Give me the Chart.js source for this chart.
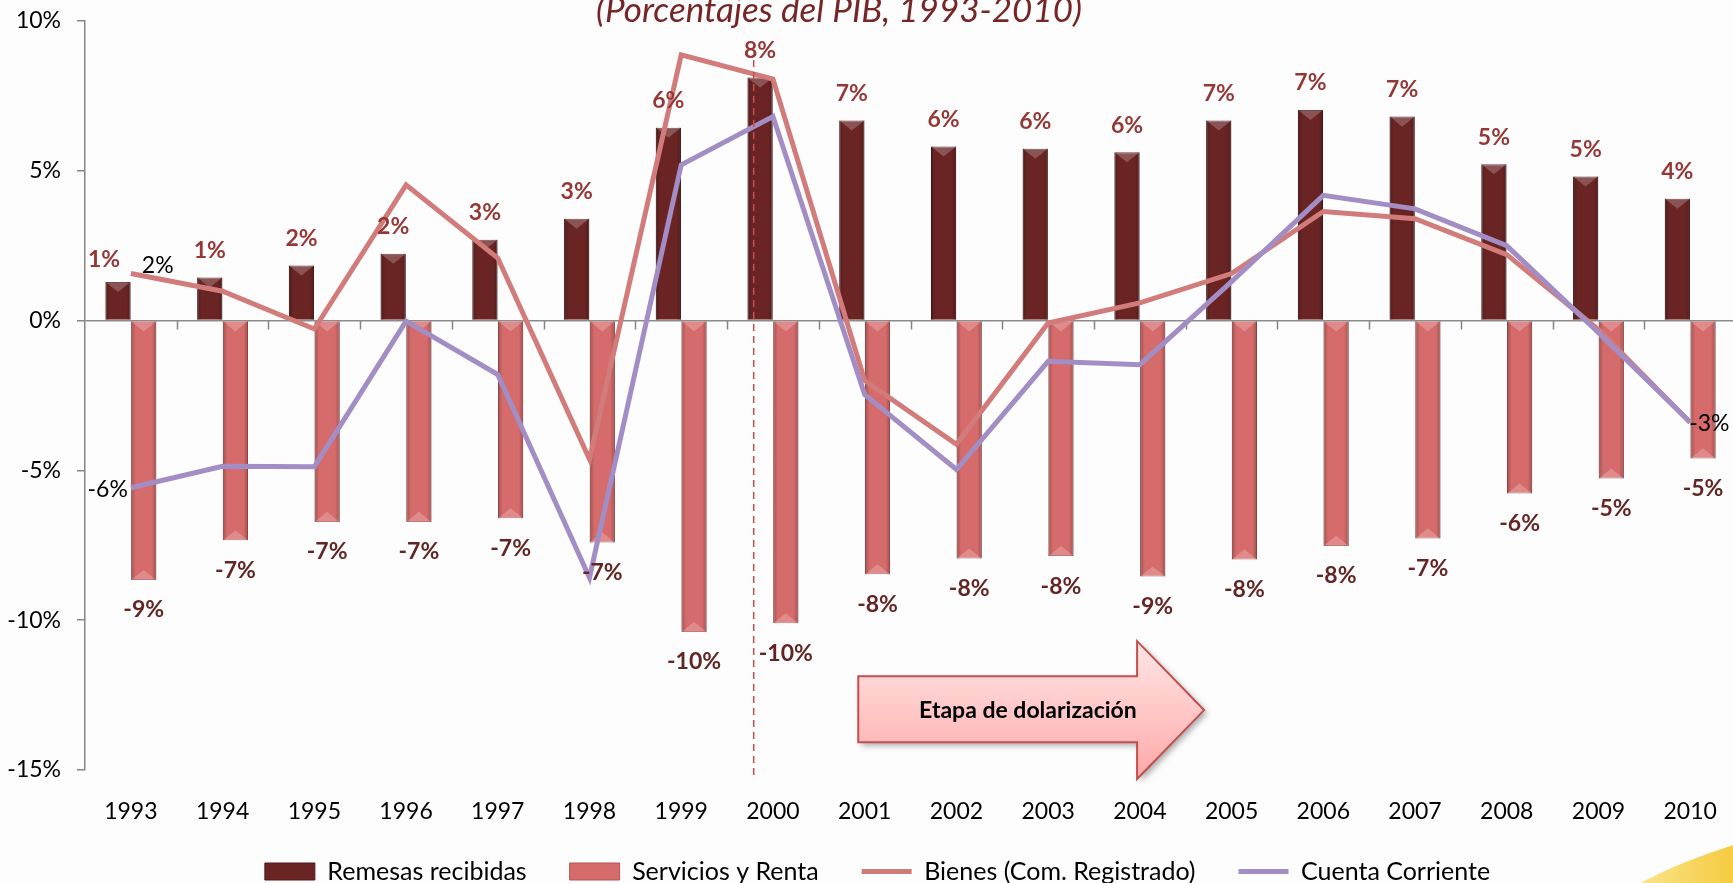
<!DOCTYPE html>
<html>
<head>
<meta charset="utf-8">
<title>Remesas y balanza</title>
<script src="https://cdn.jsdelivr.net/npm/chart.js@4.4.1/dist/chart.umd.min.js"></script>
<style>
  html, body { margin: 0; padding: 0; overflow: hidden; background: #fdfdfd; width: 1733px; height: 883px; }
  #swoosh {
    position: absolute; left: 1540px; top: 808px; width: 920px; height: 400px; border-radius: 50%;
    background: linear-gradient(to right, rgba(255,245,200,0.25) 0%, rgba(248,215,90,0.85) 14%, #f2bf1e 26%);
  }
  #graficoBalanza { position: absolute; left: 0; top: 0; }
</style>
</head>
<body>
<div id="swoosh"></div>
<canvas id="graficoBalanza" width="1745" height="894"></canvas>
<script>
let anios = ['1993','1994','1995','1996','1997','1998','1999','2000','2001','2002','2003','2004','2005','2006','2007','2008','2009','2010'];
let remesas = [1.29,1.44,1.84,2.23,2.70,3.40,6.44,8.11,6.68,5.81,5.74,5.62,6.68,7.03,6.81,5.22,4.81,4.07];
let servicios = [-8.66,-7.33,-6.72,-6.72,-6.60,-7.41,-10.39,-10.10,-8.47,-7.94,-7.86,-8.54,-7.97,-7.52,-7.27,-5.77,-5.27,-4.60];
let bienes = [1.57,0.98,-0.28,4.53,2.09,-4.63,8.87,8.06,-2.00,-4.13,-0.08,0.59,1.57,3.64,3.40,2.20,-0.30,-3.40];
let cuenta = [-5.58,-4.86,-4.88,-0.02,-1.80,-8.58,5.20,6.81,-2.47,-4.97,-1.36,-1.47,1.30,4.18,3.73,2.50,-0.40,-3.39];

const titulo = '(Porcentajes del PIB, 1993-2010)';
const textoFlecha = 'Etapa de dolarización';

Chart.defaults.font.family = "Lato, 'DejaVu Sans', sans-serif";
Chart.defaults.color = '#000';

// sombreado y bisel de las barras
const bisel = {
  id: 'bisel',
  afterDatasetDraw(chart, args) {
    if (args.meta.type !== 'bar') return;
    const ctx = chart.ctx;
    ctx.save();
    args.meta.data.forEach(bar => {
      const w = bar.width, l = bar.x - w / 2;
      const top = Math.min(bar.y, bar.base), h = Math.abs(bar.base - bar.y);
      const g = ctx.createLinearGradient(l, 0, l + w, 0);
      g.addColorStop(0, 'rgba(0,0,0,0.25)');
      g.addColorStop(0.18, 'rgba(0,0,0,0)');
      g.addColorStop(0.82, 'rgba(0,0,0,0)');
      g.addColorStop(1, 'rgba(0,0,0,0.25)');
      ctx.fillStyle = g;
      ctx.fillRect(l, top, w, h);
      const d = Math.min(w * 0.4, h / 2);
      const tri = (ey, dir) => {
        ctx.beginPath();
        ctx.moveTo(l, ey); ctx.lineTo(l + w, ey); ctx.lineTo(bar.x, ey + dir * d);
        ctx.closePath(); ctx.fill();
      };
      ctx.fillStyle = 'rgba(255,255,255,0.22)';
      if (bar.y < bar.base) tri(bar.y, 1);
      else { tri(bar.y, -1); tri(bar.base, 1); }
    });
    ctx.restore();
  }
};

// ajustes de cajas: no recortar los años y centrar la leyenda como en la diapositiva
const cajas = {
  id: 'cajas',
  afterLayout(chart) {
    chart.scales.x.bottom = chart.height;
    chart.legend.left += 14;
  }
};

function dibujarFlecha(ctx, x, y) {
  const x0 = x.getPixelForValue(7.93), x1 = x.getPixelForValue(10.97), x2 = x.getPixelForValue(11.7);
  const yt = y.getPixelForValue(-11.87), yb = y.getPixelForValue(-14.07);
  const yht = y.getPixelForValue(-10.7), yhb = y.getPixelForValue(-15.3), ym = (yht + yhb) / 2;
  ctx.save();
  ctx.beginPath();
  ctx.moveTo(x0, yt); ctx.lineTo(x1, yt); ctx.lineTo(x1, yht); ctx.lineTo(x2, ym);
  ctx.lineTo(x1, yhb); ctx.lineTo(x1, yb); ctx.lineTo(x0, yb); ctx.closePath();
  const g = ctx.createLinearGradient(0, yht, 0, yhb);
  g.addColorStop(0, '#ffe6e6');
  g.addColorStop(1, '#ffa9a9');
  ctx.shadowColor = 'rgba(0,0,0,0.35)'; ctx.shadowBlur = 6; ctx.shadowOffsetX = 3; ctx.shadowOffsetY = 3;
  ctx.fillStyle = g; ctx.fill();
  ctx.shadowColor = 'transparent';
  ctx.strokeStyle = '#c0504d'; ctx.lineWidth = 2; ctx.stroke();
  ctx.fillStyle = '#000';
  ctx.font = "bold 23px Lato";
  ctx.textAlign = 'center'; ctx.textBaseline = 'middle';
  ctx.fillText(textoFlecha, x.getPixelForValue(9.78), y.getPixelForValue(-13.0));
  ctx.restore();
}

const extras = {
  id: 'extras',
  beforeDatasetsDraw(chart) {
    const {ctx, scales: {x, y}} = chart;
    const y0 = y.getPixelForValue(0);
    ctx.save();
    ctx.strokeStyle = '#868686'; ctx.lineWidth = 1.5;
    ctx.beginPath();
    for (let i = 0; i < anios.length; i++) {
      const px = Math.round(x.getPixelForValue(i + 0.5)) + 0.5;
      ctx.moveTo(px, y0); ctx.lineTo(px, y0 + 9);
    }
    ctx.stroke();
    ctx.restore();
  },
  afterDatasetsDraw(chart) {
    const {ctx, scales: {x, y}} = chart;

    // linea punteada del inicio de la dolarizacion
    ctx.save();
    ctx.strokeStyle = '#c0504d'; ctx.lineWidth = 1.5; ctx.setLineDash([7, 5]);
    const xd = x.getPixelForValue(6.79);
    ctx.beginPath();
    ctx.moveTo(xd, y.getPixelForValue(8.7)); ctx.lineTo(xd, y.getPixelForValue(-15.2));
    ctx.stroke();
    ctx.restore();

    dibujarFlecha(ctx, x, y);

    // etiquetas de datos
    ctx.save();
    ctx.textAlign = 'center'; ctx.textBaseline = 'middle';
    ctx.font = "bold 23px Lato";
    ctx.fillStyle = '#953735';
    chart.getDatasetMeta(0).data.forEach((bar, i) => {
      // la primera etiqueta va corrida a la izquierda para no chocar con el 2%
      const dx = i === 0 ? -14 : 0, dy = i === 0 ? 5 : 0;
      ctx.fillText(Math.round(remesas[i]) + '%', bar.x + dx, bar.y - 27 + dy);
    });
    ctx.fillStyle = '#632523';
    chart.getDatasetMeta(1).data.forEach((bar, i) => {
      ctx.fillText(Math.round(servicios[i]) + '%', bar.x, bar.y + 30);
    });

    ctx.font = "23px Lato";
    ctx.fillStyle = '#000';
    const pb = chart.getDatasetMeta(2).data;
    const pc = chart.getDatasetMeta(3).data;
    const n = anios.length - 1;
    ctx.textAlign = 'left';
    ctx.fillText(Math.round(bienes[0]) + '%', pb[0].x + 11, pb[0].y - 8);
    ctx.fillText(Math.round(cuenta[n]) + '%', pc[n].x - 1, pc[n].y + 1);
    ctx.textAlign = 'right';
    ctx.fillText(Math.round(cuenta[0]) + '%', pc[0].x - 3, pc[0].y + 2);
    ctx.restore();

    // titulo (cortado arriba como en la diapositiva)
    ctx.save();
    ctx.font = "italic 35px Lato";
    ctx.fillStyle = '#762626';
    ctx.textAlign = 'center'; ctx.textBaseline = 'alphabetic';
    ctx.fillText(titulo, 839, 22);
    ctx.restore();
  }
};

document.addEventListener('DOMContentLoaded', function () {
  var ctx = document.getElementById('graficoBalanza').getContext('2d');

  var data = {
    labels: anios,
    datasets: [{
      type: 'bar',
      label: 'Remesas recibidas',
      data: remesas,
      backgroundColor: '#6b2424',
      borderColor: '#4f1818',
      borderWidth: 1,
      order: 1
    }, {
      type: 'bar',
      label: 'Servicios y Renta',
      data: servicios,
      backgroundColor: '#d66b6b',
      borderColor: '#b45454',
      borderWidth: 1,
      order: 1
    }, {
      type: 'line',
      label: 'Bienes (Com. Registrado)',
      data: bienes,
      borderColor: '#d27b7b',
      backgroundColor: '#d27b7b',
      borderWidth: 5,
      pointRadius: 0,
      tension: 0,
      order: 0
    }, {
      type: 'line',
      label: 'Cuenta Corriente',
      data: cuenta,
      borderColor: '#a28ec4',
      backgroundColor: '#a28ec4',
      borderWidth: 5,
      pointRadius: 0,
      tension: 0,
      order: -1
    }]
  };

  var options = {
    responsive: false,
    animation: false,
    layout: { padding: { left: 0, top: 21, right: 4, bottom: 0 } },
    datasets: { bar: { categoryPercentage: 0.56, barPercentage: 0.98 } },
    scales: {
      x: {
        grid: { display: false, drawTicks: false },
        border: { display: false },
        ticks: { font: { size: 23, lineHeight: 1.2 }, padding: 28, maxRotation: 0, autoSkip: false },
        afterFit: s => { s.height = 46; }
      },
      y: {
        min: -15,
        max: 10,
        ticks: { stepSize: 5, font: { size: 23 }, padding: 16, callback: v => v + '%' },
        grid: {
          color: c => c.tick && c.tick.value === 0 ? '#8c8c8c' : 'rgba(0,0,0,0)',
          lineWidth: 1.5,
          tickColor: '#868686',
          tickLength: 8,
          tickWidth: 1.5
        },
        border: { color: '#868686', width: 1.5 },
        afterFit: s => { s.width = 85; s.paddingTop = 0; s.paddingBottom = 0; }
      }
    },
    plugins: {
      tooltip: { enabled: false },
      legend: {
        position: 'bottom',
        labels: {
          font: { size: 25 },
          usePointStyle: true,
          pointStyleWidth: 50,
          boxHeight: 17,
          padding: 43,
          sort: (a, b) => a.datasetIndex - b.datasetIndex,
          generateLabels(chart) {
            const items = Chart.defaults.plugins.legend.labels.generateLabels(chart);
            items.forEach(it => {
              const ds = chart.data.datasets[it.datasetIndex];
              if (ds.type === 'line') {
                it.pointStyle = 'line';
                it.strokeStyle = ds.borderColor;
                it.lineWidth = 5;
              } else {
                it.pointStyle = 'rect';
              }
            });
            return items;
          }
        }
      }
    }
  };

  new Chart(ctx, {
    type: 'bar',
    data: data,
    options: options,
    plugins: [bisel, cajas, extras]
  });
});
</script>
</body>
</html>
